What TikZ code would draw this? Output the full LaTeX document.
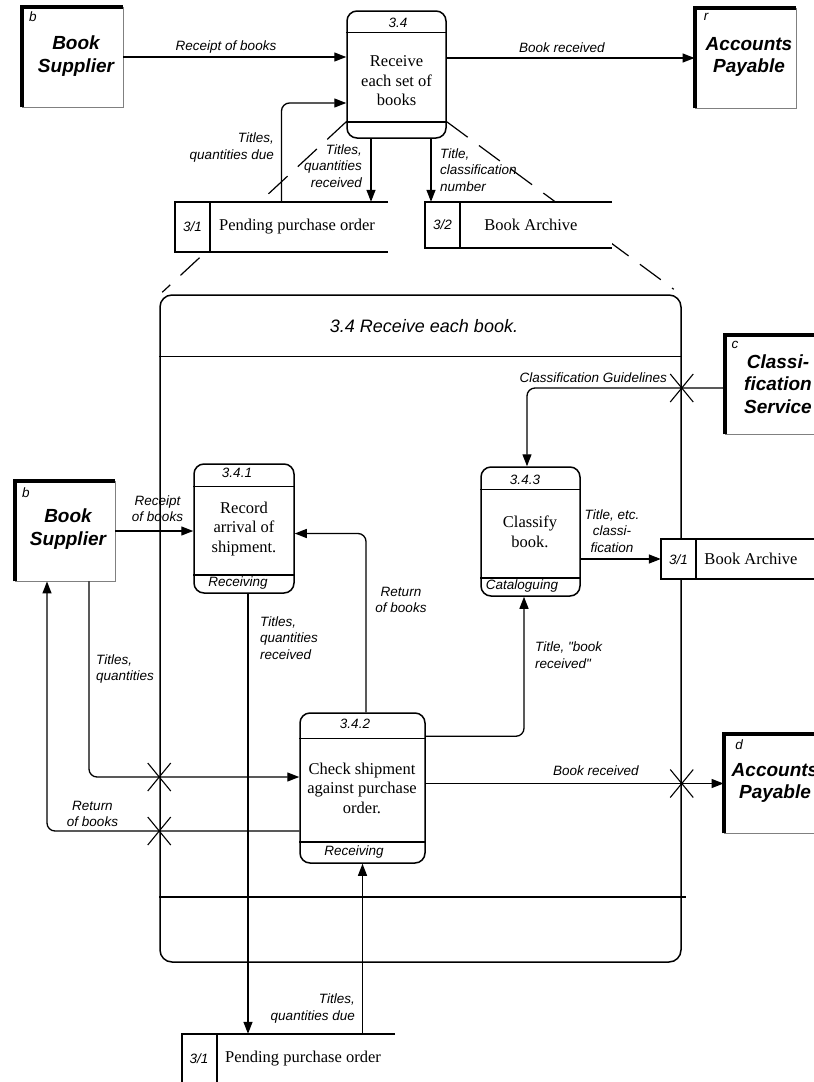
\documentclass[tikz,border=0pt]{standalone}
\usepackage{fontspec}
\setmainfont{Liberation Serif}
\setsansfont{Liberation Sans}[Ligatures=TeXOff]
\usetikzlibrary{arrows.meta,calc}
\tikzset{
  xmark/.pic={\draw[line width=1.1pt] (-11.5,-14)--(11.5,14) (-11.5,14)--(11.5,-14);}
}
\begin{document}
\begin{tikzpicture}[x=1pt,y=-1pt,
  arr/.style={line width=1.3pt,-{Triangle[length=12pt,width=9pt]}},
  dashline/.style={line width=1.2pt,dash pattern=on 26pt off 14pt},
  lbl/.style={font=\sffamily\itshape\fontsize{13.5}{16.5}\selectfont, inner sep=0pt},
  proc/.style={draw, line width=1.5pt, rounded corners=10pt, inner sep=0pt},
  procline/.style={line width=1.5pt},
  ptext/.style={font=\fontsize{16.5}{19.5}\selectfont, align=center, inner sep=0pt},
  enttext/.style={font=\sffamily\bfseries\itshape\fontsize{19}{22.5}\selectfont, align=center, inner sep=0pt},
  ent/.style={draw=gray, line width=0.9pt, inner sep=0pt},
  entedge/.style={line width=4pt},
  store/.style={fill=white, inner sep=0pt},
  storeline/.style={line width=1.6pt},
  frame/.style={draw, line width=1.5pt, rounded corners=12pt, inner sep=0pt}
]
\useasboundingbox (0,0) rectangle (814,1082);
\clip (0,0) rectangle (814,1082);

% ---------- top level ----------
\node[proc, minimum width=99pt, minimum height=127pt] (p34) at (396.5,74.5) {};
\draw[procline] ($(p34.north west)+(0,22)$) -- ($(p34.north east)+(0,22)$);
\draw[procline] ($(p34.south west)+(0,-17)$) -- ($(p34.south east)+(0,-17)$);
\node[lbl] (p34n) at (398,23) {3.4};
\node[ptext] (p34t) at (396.5,81) {Receive\\each set of\\books};

\node[frame, minimum width=521pt, minimum height=667pt] (F) at (420.5,628.5) {};
\draw[procline] ($(F.north west)+(0,62)$) -- ($(F.north east)+(0,62)$);
\draw[procline] ($(F.south west)+(0,-66)$) -- ($(F.south east)+(4,-66)$);
\node[font=\sffamily\itshape\fontsize{18}{21}\selectfont, inner sep=0pt] (Ft) at (424,326) {3.4 Receive each book.};

% dashed expansion lines
\draw[dashline] ($(p34.south west)+(0,-17)$) -- ($(F.north west)+(3,-2)$);
\draw[dashline] ($(p34.south east)+(0,-17)$) -- ($(F.north east)+(-8,-5)$);

% entities top
\node[ent, minimum width=101pt, minimum height=100pt] (bs1) at (72.5,57) {};
\draw[entedge] (bs1.south west) -- (bs1.north west) -- (bs1.north east);
\node[lbl] (bs1c) at (33,17) {b};
\node[enttext] (bs1t) at (76,56) {Book\\Supplier};

\node[ent, minimum width=101pt, minimum height=100pt] (ap1) at (745.5,58) {};
\draw[entedge] (ap1.south west) -- (ap1.north west) -- (ap1.north east);
\node[lbl] (ap1c) at (706,17) {r};
\node[enttext] (ap1t) at (749,57) {Accounts\\Payable};

% stores top
\node[store, minimum width=213pt, minimum height=50pt] (s1) at (281.5,227) {};
\draw[storeline] (s1.north east) -- (s1.north west) -- (s1.south west) -- (s1.south east);
\draw[storeline] ($(s1.north west)+(35,0)$) -- ($(s1.south west)+(35,0)$);
\node[lbl] (s1i) at (192.5,227) {3/1};
\node[ptext] (s1t) at (297,227) {Pending purchase order};

\node[store, minimum width=187pt, minimum height=46pt] (s2) at (518.5,225) {};
\draw[storeline] (s2.north east) -- (s2.north west) -- (s2.south west) -- (s2.south east);
\draw[storeline] ($(s2.north west)+(35,0)$) -- ($(s2.south west)+(35,0)$);
\node[lbl] (s2i) at (442.5,225) {3/2};
\node[ptext] (s2t) at (531,225) {Book Archive};

% top flows
\draw[arr] (bs1.east) -- (bs1.east -| p34.west);
\node[lbl] (l1) at (226,47) {Receipt of books};
\draw[arr] (p34.east |- ap1.west) -- (ap1.west);
\node[lbl] (l2) at (562,48) {Book received};
\coordinate (c1) at ($(p34.west)+(0,28.5)$);
\draw[arr, rounded corners=8pt] (s1.north) |- (c1);
\node[lbl, anchor=east, align=right] (l3) at (274,147.5) {Titles,\\quantities due};
\coordinate (c2) at ($(p34.south)+(-25.5,0)$);
\draw[arr] (c2) -- (c2 |- s1.north);
\node[lbl, anchor=east, align=right] (l4) at (362,166) {Titles,\\quantities\\received};
\coordinate (c3) at ($(p34.south)+(34.5,0)$);
\draw[arr] (c3) -- (c3 |- s2.north);
\node[lbl, anchor=west, align=left] (l5) at (440,170) {Title,\\classification\\number};

% ---------- inner level ----------
\node[proc, minimum width=100pt, minimum height=129pt] (p341) at (244,528.5) {};
\draw[procline] ($(p341.north west)+(0,23)$) -- ($(p341.north east)+(0,23)$);
\draw[procline] ($(p341.south west)+(0,-19)$) -- ($(p341.south east)+(0,-19)$);
\node[lbl] (p341n) at (237,473) {3.4.1};
\node[ptext] (p341t) at (244,529) {Record\\arrival of\\shipment.};
\node[lbl] (p341f) at (238,583.5) {Receiving};

\node[proc, minimum width=125pt, minimum height=150pt] (p342) at (362.5,788) {};
\draw[procline] ($(p342.north west)+(0,26)$) -- ($(p342.north east)+(0,26)$);
\draw[procline] ($(p342.south west)+(0,-22)$) -- ($(p342.south east)+(0,-22)$);
\node[lbl] (p342n) at (355,724) {3.4.2};
\node[ptext] (p342t) at (362,788) {Check shipment\\against purchase\\order.};
\node[lbl] (p342f) at (354,852) {Receiving};

\node[proc, minimum width=99pt, minimum height=129pt] (p343) at (530.5,531.5) {};
\draw[procline] ($(p343.north west)+(0,23)$) -- ($(p343.north east)+(0,23)$);
\draw[procline] ($(p343.south west)+(0,-19)$) -- ($(p343.south east)+(0,-19)$);
\node[lbl] (p343n) at (525,480) {3.4.3};
\node[ptext] (p343t) at (530,532) {Classify\\book.};
\node[lbl] (p343f) at (522,586) {Cataloguing};

% inner entities
\node[ent, minimum width=100pt, minimum height=100pt] (bs2) at (65,531) {};
\draw[entedge] (bs2.south west) -- (bs2.north west) -- (bs2.north east);
\node[lbl] (bs2c) at (26,493) {b};
\node[enttext] (bs2t) at (68,529) {Book\\Supplier};

\node[ent, minimum width=105pt, minimum height=99pt] (cs) at (777.5,384.5) {};
\draw[entedge] (cs.south west) -- (cs.north west) -- (cs.north east);
\node[lbl] (csc) at (735,345) {c};
\node[enttext] (cst) at (778,384) {Classi-\\fication\\Service};

\node[ent, minimum width=106pt, minimum height=99pt] (ap2) at (777,783.5) {};
\draw[entedge] (ap2.south west) -- (ap2.north west) -- (ap2.north east);
\node[lbl] (ap2c) at (739,745) {d};
\node[enttext] (ap2t) at (775,783) {Accounts\\Payable};

% inner stores
\node[store, minimum width=180pt, minimum height=40pt] (ba) at (751,559) {};
\draw[storeline] (ba.north east) -- (ba.north west) -- (ba.south west) -- (ba.south east);
\draw[storeline] ($(ba.north west)+(35,0)$) -- ($(ba.south west)+(35,0)$);
\node[lbl] (bai) at (678.5,560) {3/1};
\node[ptext] (bat) at (751,559) {Book Archive};

\node[store, minimum width=213pt, minimum height=50pt] (s3) at (288.5,1059) {};
\draw[storeline] (s3.north east) -- (s3.north west) -- (s3.south west) -- (s3.south east);
\draw[storeline] ($(s3.north west)+(35,0)$) -- ($(s3.south west)+(35,0)$);
\node[lbl] (s3i) at (199,1059) {3/1};
\node[ptext] (s3t) at (303,1059) {Pending purchase order};

% inner flows
\draw[arr] (bs2.east) -- (bs2.east -| p341.west);
\node[lbl, align=center] (l6) at (157.5,508.5) {Receipt\\of books};

\coordinate (c4) at ($(bs2.south)+(24,0)$);
\coordinate (c5) at ($(p342.west)+(0,-11)$);
\draw[arr, rounded corners=8pt] (c4) |- (c5);
\node[lbl, anchor=west, align=left] (l7) at (96,669) {Titles,\\quantities};

\coordinate (c6) at ($(p342.west)+(0,43)$);
\coordinate (c7) at ($(bs2.south)+(-18,0)$);
\draw[arr, rounded corners=8pt] (c6) -| (c7);
\node[lbl, align=center] (l8) at (92.5,814) {Return\\of books};

\coordinate (x1) at (F.west |- c5);
\coordinate (x2) at (F.west |- c6);
\pic at (x1) {xmark};
\pic at (x2) {xmark};

\coordinate (c8) at ($(p342.north)+(3.5,0)$);
\coordinate (c9) at ($(p341.east)+(0,5)$);
\draw[arr, rounded corners=8pt] (c8) |- (c9);
\node[lbl, align=center] (l9) at (401,600) {Return\\of books};

\coordinate (c10) at ($(p341.south)+(4,0)$);
\draw[arr] (c10) -- (c10 |- s3.north);
\node[lbl, anchor=west, align=left] (l10) at (260,638) {Titles,\\quantities\\received};

\draw[arr] (p342.south |- s3.north) -- (p342.south);
\node[lbl, anchor=east, align=right] (l11) at (355,1008.5) {Titles,\\quantities due};

\coordinate (c11) at ($(p342.north east)+(0,24)$);
\coordinate (c12) at ($(p343.south)+(-6.5,0)$);
\draw[arr, rounded corners=8pt] (c11) -| (c12);
\node[lbl, anchor=west, align=left] (l12) at (535,655) {Title, "book\\received"};

\coordinate (c13) at ($(cs.west)+(0,3.5)$);
\coordinate (c14) at ($(p343.north)+(-3.5,0)$);
\draw[arr, rounded corners=8pt] (c13) -| (c14);
\node[lbl, anchor=east] (l13) at (667,378) {Classification Guidelines};
\coordinate (x3) at (F.east |- c13);
\pic at (x3) {xmark};

\draw[arr] (p343.east |- ba.west) -- (ba.west);
\node[lbl, align=center] (l14) at (612,531) {Title, etc.\\classi-\\fication};

\draw[arr] (p342.east |- ap2.west) -- (ap2.west);
\node[lbl] (l15) at (596,771) {Book received};
\coordinate (x4) at (F.east |- ap2.west);
\pic at (x4) {xmark};
\end{tikzpicture}
\end{document}
